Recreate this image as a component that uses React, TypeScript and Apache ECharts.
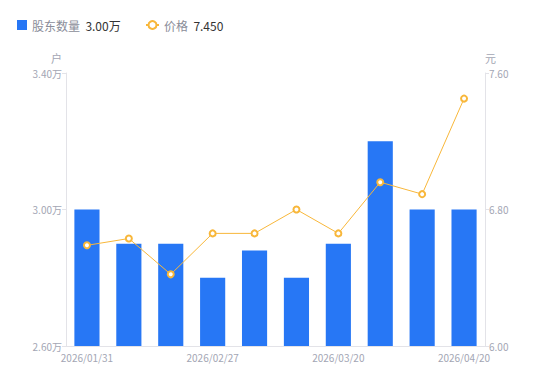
import React, { useEffect, useRef } from "react";
import * as echarts from "echarts";

const dates = [
  "2026/01/31", "2026/02/10", "2026/02/20", "2026/02/27", "2026/03/06",
  "2026/03/13", "2026/03/20", "2026/03/31", "2026/04/10", "2026/04/20",
];
const holders = [3.0, 2.9, 2.9, 2.8, 2.88, 2.8, 2.9, 3.2, 3.0, 3.0];
const prices = [6.59, 6.63, 6.42, 6.66, 6.66, 6.8, 6.66, 6.96, 6.89, 7.45];
const leftTicks = [2.6, 3.0, 3.4];
const rightTicks = [6.0, 6.8, 7.6];

const FONT = "'Noto Sans CJK SC', 'Noto Sans', sans-serif";
const GRAY = "#a3a6b4";

export default function App() {
  const ref = useRef<HTMLDivElement>(null);
  useEffect(() => {
    const chart = echarts.init(ref.current!, null, { renderer: "svg" });
    const lastH = holders[holders.length - 1];
    const lastP = prices[prices.length - 1];
    const legendText = {
      fontFamily: FONT,
      rich: {
        n: { color: "#8a8d99", fontSize: 12, fontFamily: FONT },
        v: { color: "#333", fontSize: 12, fontFamily: FONT },
      },
    };
    chart.setOption({
      animation: false,
      textStyle: { fontFamily: FONT },
      legend: [
        {
          left: 9,
          top: 11,
          padding: 0,
          itemWidth: 10,
          itemHeight: 10,
          itemGap: 5,
          data: [{ name: "股东数量", icon: "rect" }],
          formatter: (name: string) => `{n|${name}}  {v|${lastH.toFixed(2)}万}`,
          textStyle: legendText,
        },
        {
          left: 137,
          top: 11,
          padding: 0,
          itemWidth: 13,
          itemHeight: 10,
          data: ["价格"],
          formatter: (name: string) => `{n|${name}}  {v|${lastP.toFixed(3)}}`,
          textStyle: legendText,
        },
      ],
      grid: { left: 58, right: 57, top: 65, bottom: 27 },
      xAxis: {
        type: "category",
        data: dates,
        axisLine: { lineStyle: { color: "#e3e3e8" } },
        axisTick: { show: false },
        axisLabel: {
          interval: 2,
          color: GRAY,
          fontSize: 10,
          margin: 6,
          fontFamily: FONT,
        },
      },
      yAxis: [
        {
          type: "value",
          name: "户",
          nameLocation: "end",
          nameGap: 10,
          nameTextStyle: { color: GRAY, fontSize: 11, align: "right", padding: [0, 4, 0, 0], fontFamily: FONT },
          min: 2.6,
          max: 3.4,
          axisLine: { show: true, lineStyle: { color: "#e3e3e8" } },
          axisTick: { show: true, customValues: leftTicks, length: 4, lineStyle: { color: "#e3e3e8" } },
          axisLabel: {
            customValues: leftTicks,
            color: GRAY,
            fontSize: 10,
            margin: 4,
            fontFamily: FONT,
            formatter: (v: number) => v.toFixed(2) + "万",
          },
          splitLine: { show: false },
        },
        {
          type: "value",
          name: "元",
          nameLocation: "end",
          nameGap: 10,
          nameTextStyle: { color: GRAY, fontSize: 11, align: "left", padding: [0, 0, 0, 0], fontFamily: FONT },
          min: 6.0,
          max: 7.6,
          position: "right",
          axisLine: { show: true, lineStyle: { color: "#e3e3e8" } },
          axisTick: { show: true, customValues: rightTicks, length: 4, lineStyle: { color: "#e3e3e8" } },
          axisLabel: {
            customValues: rightTicks,
            color: GRAY,
            fontSize: 10,
            margin: 4,
            fontFamily: FONT,
            formatter: (v: number) => v.toFixed(2),
          },
          splitLine: { show: false },
        },
      ],
      series: [
        {
          name: "股东数量",
          type: "bar",
          data: holders,
          barWidth: "60%",
          itemStyle: { color: "#2777f5" },
        },
        {
          name: "价格",
          type: "line",
          yAxisIndex: 1,
          data: prices,
          symbol: "emptyCircle",
          symbolSize: 6,
          lineStyle: { color: "#f8b73a", width: 1 },
          itemStyle: { color: "#f8b73a", borderWidth: 2 },
        },
      ],
    });
    return () => chart.dispose();
  }, []);
  return <div ref={ref} style={{ width: 534, height: 365 }} />;
}
